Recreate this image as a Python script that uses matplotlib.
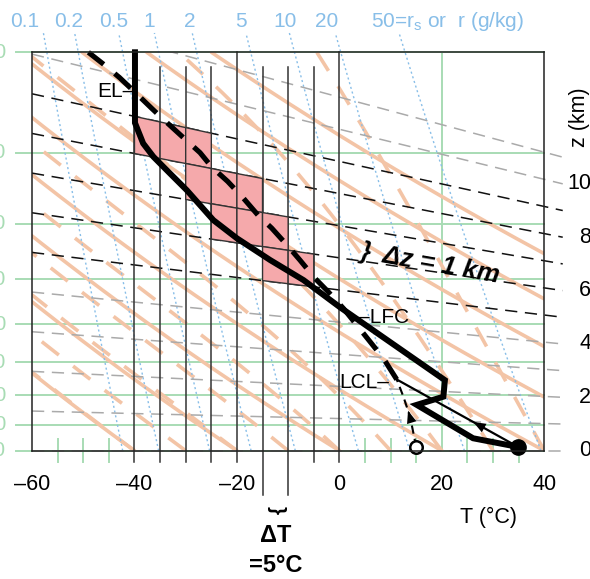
import numpy as np
import matplotlib.pyplot as plt
import matplotlib.transforms as mtransforms
from matplotlib.patches import Polygon

plt.rcParams['font.family'] = ['Liberation Sans', 'DejaVu Sans']

# --- DATOS DEL SONDEO (T en °C, P en kPa) ---
env_T = [34.9, 26.1, 15.1, 20.3, 20.6, 0.1, -7.0, -13.5, -20.0, -24.6,
         -29.8, -33.1, -36.3, -38.3, -39.9, -39.9]
env_P = [98.5, 95.1, 83.1, 80.4, 75.2, 56.0, 50.2, 46.3, 42.4, 39.4,
         34.9, 32.6, 30.5, 28.9, 26.6, 20.0]

# parcela: ascenso seco hasta el LCL
dry_T = [34.9, 11.2]
dry_P = [98.5, 75.0]

# punto de rocio hasta el LCL
dew_T = [15.0, 13.8, 12.5, 11.2]
dew_P = [98.5, 87.2, 80.4, 75.0]

# parcela: adiabatica humeda desde el LCL
moist_T = [11.2, 8.6, 6.0, 0.8, -2.2, -4.8, -7.7, -10.2, -13.2, -15.9, -18.8,
           -21.8, -24.9, -27.2, -30.7, -33.6, -36.6, -39.9, -42.8, -45.7, -49.0]
moist_P = [75.0, 68.9, 64.4, 56.3, 52.6, 49.8, 46.3, 43.6, 40.7, 38.6, 36.0,
           33.7, 31.8, 30.0, 28.1, 26.6, 25.1, 23.5, 22.2, 21.1, 20.0]

# cajas de CAPE (esquina: T izquierda, z inferior en km)
box_T = [-40, -35, -30, -30, -25, -20, -25, -20, -15, -15, -10]
box_z = [8, 8, 8, 7, 7, 7, 6, 6, 6, 5, 5]

# --- FONDO DEL DIAGRAMA ---
isobars = [20, 30, 40, 50, 60, 70, 80, 90, 100]
isotherms = [-40, -35, -30, -25, -20, -15, -10, -5, 0]
full_isotherms = [-40, -20, 0]
long_isotherms = [-15, -10]
green_ticks = [-55, -50, -45, 5, 10, 15, 25, 30, 35]
theta_dry = [-40, -20, 0, 20, 40, 60, 80, 100, 120]
theta_w = [-40, -30, -20, -10, 0, 10, 20, 30, 40]
r_vals = [0.1, 0.2, 0.5, 1, 2, 5, 10, 20, 50]
r_labels = ['0.1', '0.2', '0.5', '1', '2', '5', '10', '20']
r_label_T = [-61.5, -52.8, -44.0, -37.1, -29.2, -19.2, -10.6, -2.4]
z_km = list(range(0, 12))
z_black = [5, 6, 7, 8, 9]
z_labels = [0, 2, 4, 6, 8, 10]
t_ticks = [-60, -40, -20, 0, 20, 40]
t_ticklabels = ['–60', '–40', '–20', '0', '20', '40']

GREEN = '#A8DCB4'
ORANGE = '#F3C4A6'
BLUE = '#88BEE8'
PINK = '#F5A9AB'

Rd, Cp, L, g = 287.0, 1004.0, 2.5e6, 9.8

# --- FUNCIONES ---
def dry_adiabat(theta, p):
    return (theta + 273.15) * (p / 100.0) ** (Rd / Cp) - 273.15

def moist_adiabat(tw):
    lnp = np.linspace(np.log(100), np.log(20), 400)
    T = tw + 273.15
    out = [T]
    for i in range(1, len(lnp)):
        P = np.exp(lnp[i - 1])
        es = 0.611 * np.exp(5423 * (1 / 273.15 - 1 / T))
        rs = 0.622 * es / (P - es)
        dT = (Rd * T + L * rs) / (Cp + L ** 2 * rs * 0.622 / (Rd * T ** 2))
        T = T + dT * (lnp[i] - lnp[i - 1])
        out.append(T)
    return np.array(out) - 273.15, np.exp(lnp)

def isohume(r, p):
    e = r / 1000 * p / (0.622 + r / 1000)
    return 1 / (1 / 273.15 - 1.844e-4 * np.log(e / 0.611)) - 273.15

Z_T = [-60.0, 43.6]  # extremos de las lineas de altura
def z_to_P(z, T):
    lnp_ends = [np.log(100) - g * z * 1000 / (Rd * (t + 273.15)) for t in Z_T]
    return np.exp(np.interp(T, Z_T, lnp_ends))

def along(Ts, Ps, f):
    # punto a fraccion f de una polilinea (en T, log P)
    T0, T1 = Ts[0], Ts[-1]
    t = T0 + f * (T1 - T0)
    if T1 < T0:
        lnp = np.interp(t, Ts[::-1], np.log(Ps)[::-1])
    else:
        lnp = np.interp(t, Ts, np.log(Ps))
    return t, np.exp(lnp)

# --- FIGURA ---
W, H = 590, 579
fig = plt.figure(figsize=(W / 100, H / 100), dpi=100)
ax = fig.add_axes([32 / W, 1 - 450.7 / H, 512.3 / W, 398.4 / H])
ax.set_yscale('log')
ax.set_xlim(-60, 40)
ax.set_ylim(100, 20)
ax.yaxis.set_major_locator(plt.NullLocator())
ax.yaxis.set_minor_locator(plt.NullLocator())
for s in ax.spines.values():
    s.set_linewidth(1.1)
    s.set_color('#222222')
    s.set_zorder(6)

blend = mtransforms.blended_transform_factory(fig.transFigure, ax.transData)

# isobaras (verde) con etiquetas recortadas a la izquierda
for p in isobars:
    ax.plot([-63.1, 40], [p, p], color=GREEN, lw=1.4, clip_on=False, zorder=1)
    ax.text(6 / W, p, str(p), transform=blend, ha='right', va='center',
            color=GREEN, fontsize=15)
ax.plot([20, 20], [100, 20], color=GREEN, lw=1.4, zorder=1)
for t in green_ticks:
    ax.plot([t, t], [95.4, 104.7], color=GREEN, lw=1.4, clip_on=False, zorder=1)

# isotermas negras
for t in isotherms:
    top = 20 if t in full_isotherms else 21.2
    bot = 119.6 if t in long_isotherms else 104.7
    ax.plot([t, t], [bot, top], color='#333333', lw=1.1, clip_on=False, zorder=2.6)

# adiabaticas secas y humedas
pp = np.geomspace(100, 20, 200)
for th in theta_dry:
    ax.plot(dry_adiabat(th, pp), pp, color=ORANGE, lw=2.6, zorder=2,
            solid_capstyle='round')
for tw in theta_w:
    tm, pm = moist_adiabat(tw)
    ax.plot(tm, pm, color=ORANGE, lw=2.6, ls=(0, (6, 5)), zorder=2)

# lineas de razon de mezcla
pr = np.geomspace(100, 18.5, 100)
for r in r_vals:
    ax.plot(isohume(r, pr), pr, color=BLUE, lw=1.0, ls=(0, (1.5, 2)),
            clip_on=False, zorder=2.2)
for lab, t in zip(r_labels, r_label_T):
    ax.text(t, 17.68, lab, ha='center', va='center', color=BLUE, fontsize=15,
            clip_on=False)
ax.text(6.1, 17.68, '50=r$_\\mathregular{s}$ or  r (g/kg)', ha='left', va='center',
        color=BLUE, fontsize=15, clip_on=False)

# lineas de altura (discontinuas)
clip_rect = plt.Rectangle((0, -0.01), 1.04, 1.01, transform=ax.transAxes)
for z in z_km:
    col = '#111111' if z in z_black else '#AAAAAA'
    ln, = ax.plot(Z_T, [z_to_P(z, t) for t in Z_T], color=col, lw=1.1,
                  ls=(0, (8, 5)), zorder=2.5)
    ln.set_clip_path(clip_rect)
for z in z_labels:
    ax.text(591 / W, z_to_P(z, Z_T[1]), str(z), transform=blend, ha='right',
            va='center', fontsize=15.5)
fig.text(580 / W, 1 - 117 / H, 'z (km)', rotation=90, ha='center', va='center',
         fontsize=15.5)

# cajas de CAPE
for t0, z0 in zip(box_T, box_z):
    t1 = t0 + 5
    verts = [(t0, z_to_P(z0, t0)), (t1, z_to_P(z0, t1)),
             (t1, z_to_P(z0 + 1, t1)), (t0, z_to_P(z0 + 1, t0))]
    ax.add_patch(Polygon(verts, closed=True, facecolor=PINK, edgecolor='#333333',
                         lw=1.0, zorder=3))

# sondeo y parcela
ax.plot(env_T, env_P, color='black', lw=4.3, zorder=5, solid_joinstyle='miter',
        clip_on=False)
ax.plot(moist_T, moist_P, color='black', lw=3.7, ls=(0, (4.2, 2.8)), zorder=5,
        clip_on=False)
ax.plot(dry_T, dry_P, color='black', lw=1.6, zorder=5)
ax.plot(dew_T, dew_P, color='black', lw=1.5, ls=(0, (4, 2.5)), zorder=5)
ax.plot(dry_T[0], dry_P[0], 'o', color='black', ms=11, zorder=6, clip_on=False)
ax.plot(dew_T[0], dew_P[0], 'o', mfc='white', mec='black', mew=1.8, ms=9,
        zorder=6, clip_on=False)

# flechas
for Ts, Ps, f in [(dry_T, dry_P, 0.37), (dew_T, dew_P, 0.42)]:
    tip = along(Ts, Ps, f)
    tail = along(Ts, Ps, f - 0.12)
    ax.annotate('', xy=tip, xytext=tail, zorder=6,
                arrowprops=dict(arrowstyle='-|>,head_length=0.9,head_width=0.35',
                                color='black', lw=0, shrinkA=0, shrinkB=0))

# etiquetas
ax.text(-39.9, 23.4, 'EL–', ha='right', va='center', fontsize=15, zorder=7)
ax.text(3.6, 58.5, '–LFC', ha='left', va='center', fontsize=15, zorder=7)
ax.text(9.8, 75.8, 'LCL–', ha='right', va='center', fontsize=15, zorder=7)
ax.text(17.9, 47.0, '}  Δz = 1 km', rotation=-10, rotation_mode='anchor',
        ha='center', va='center', fontsize=18.5, fontweight='bold',
        fontstyle='italic', zorder=7)

# eje T
ax.set_xticks(t_ticks, t_ticklabels)
ax.tick_params(axis='x', length=0, pad=17, labelsize=15.5)
fig.text(489 / W, 1 - 517 / H, 'T (°C)', ha='center', va='center', fontsize=15.5)
fig.text(276 / W, 1 - 510 / H, '}', rotation=-90, ha='center', va='center',
         fontsize=15, fontweight='bold')
fig.text(276 / W, 1 - 535 / H, 'ΔT', ha='center', va='center', fontsize=17,
         fontweight='bold')
fig.text(276 / W, 1 - 566 / H, '=5°C', ha='center', va='center', fontsize=17,
         fontweight='bold')

fig.savefig('out.png', dpi=100)
